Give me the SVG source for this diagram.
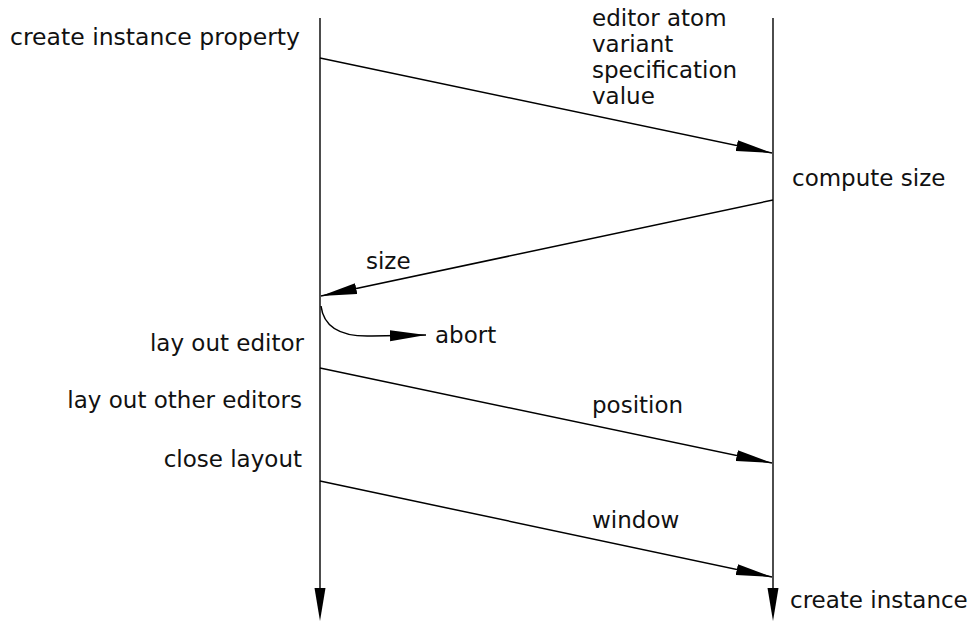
<svg xmlns="http://www.w3.org/2000/svg" width="977" height="621" viewBox="0 0 977 621">
  <style>
    .bg { fill: #ffffff; }
    .life { stroke: #000; stroke-width: 1.4; fill: none; }
    .msg { stroke: #000; stroke-width: 1.5; fill: none; marker-end: url(#head); }
    .lbl { font-family: "DejaVu Sans", "Liberation Sans", sans-serif; font-size: 23px; fill: #111; }
    .end { text-anchor: end; }
  </style>
  <defs>
    <marker id="head" viewBox="-36 -6 37 12" refX="0" refY="0" markerWidth="37" markerHeight="12" markerUnits="userSpaceOnUse" orient="auto">
      <path d="M0,0 L-36,-5.5 L-36,5.5 Z" fill="#000"/>
    </marker>
  </defs>
  <rect class="bg" width="977" height="621"/>

  <!-- lifelines -->
  <g id="caller">
    <line class="life" x1="320" y1="18" x2="320" y2="590"/>
    <path d="M320,621 L314.5,588 L325.5,588 Z" fill="#000"/>
    <text class="lbl" x="10" y="45" textLength="290" lengthAdjust="spacingAndGlyphs">create instance property</text>
    <text class="lbl end" x="304" y="351">lay out editor</text>
    <text class="lbl end" x="302" y="408">lay out other editors</text>
    <text class="lbl end" x="302" y="467">close layout</text>
  </g>

  <g id="editor">
    <line class="life" x1="773" y1="18" x2="773" y2="590"/>
    <path d="M773,621 L767.5,588 L778.5,588 Z" fill="#000"/>
    <text class="lbl" x="792" y="186">compute size</text>
    <text class="lbl" x="790" y="608">create instance</text>
  </g>

  <!-- messages -->
  <g id="connectors">
    <line class="msg" x1="320" y1="58" x2="772" y2="153"/>
    <line class="msg" x1="773" y1="200" x2="321" y2="296"/>
    <path class="msg" d="M321,306 C324,330 345,337 372,336 L426,335"/>
    <line class="msg" x1="320" y1="368" x2="772" y2="463"/>
    <line class="msg" x1="320" y1="481" x2="772" y2="577"/>
  </g>

  <g id="labels">
    <text class="lbl" x="592" y="26">editor atom</text>
    <text class="lbl" x="592" y="52">variant</text>
    <text class="lbl" x="592" y="78">specification</text>
    <text class="lbl" x="592" y="104">value</text>
    <text class="lbl" x="366" y="269">size</text>
    <text class="lbl" x="435" y="343">abort</text>
    <text class="lbl" x="592" y="413">position</text>
    <text class="lbl" x="592" y="528">window</text>
  </g>
</svg>
